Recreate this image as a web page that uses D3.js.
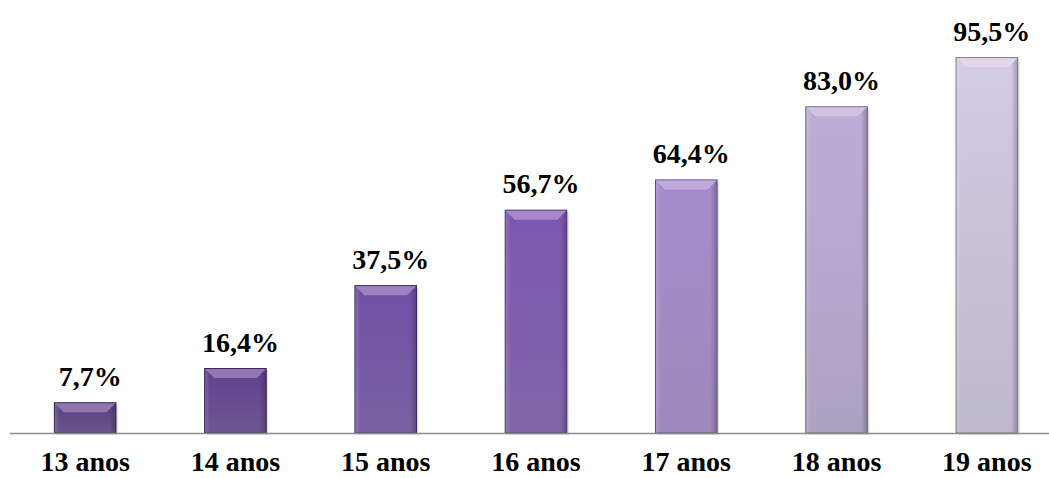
<!DOCTYPE html>
<html lang="pt">
<head>
<meta charset="UTF-8">
<script src="https://d3js.org/d3.v7.min.js"></script>
<style>
  body { margin: 0; background: #fff; }
</style>
</head>
<body>
<div id="chart"></div>
<script>
var categories = ["13 anos", "14 anos", "15 anos", "16 anos", "17 anos", "18 anos", "19 anos"];
var values = [7.7, 16.4, 37.5, 56.7, 64.4, 83.0, 95.5];
var colors = ["#5a3f86", "#60418f", "#7050a6", "#7d57b2", "#a58bcc", "#bcadd6", "#d4cbe4"];

var width = 1049, height = 478;
var fontFam = "'Liberation Serif', 'Times New Roman', serif";

var svg = d3.select("#chart").append("svg")
    .attr("width", width)
    .attr("height", height);

var x = d3.scaleBand()
    .domain(categories)
    .range([10, 1062])
    .paddingInner(0.59)
    .paddingOuter(0.295);

var y = d3.scaleLinear()
    .domain([0, 100])
    .range([433, 40]);

var defs = svg.append("defs");

// vertical gradient per bar, a bit greyer toward the base
colors.forEach(function(c, i) {
  var g = defs.append("linearGradient")
      .attr("id", "grad" + i)
      .attr("x1", 0).attr("y1", 0).attr("x2", 0).attr("y2", 1);
  g.append("stop").attr("offset", "0%").attr("stop-color", c);
  g.append("stop").attr("offset", "100%").attr("stop-color", d3.interpolateRgb(c, "#8e8898")(0.3));
});

var hg = defs.append("linearGradient")
    .attr("id", "side").attr("x1", 0).attr("y1", 0).attr("x2", 1).attr("y2", 0);
hg.append("stop").attr("offset", "0%").attr("stop-color", "#fff").attr("stop-opacity", 0.15);
hg.append("stop").attr("offset", "8%").attr("stop-color", "#fff").attr("stop-opacity", 0.0);
hg.append("stop").attr("offset", "90%").attr("stop-color", "#000").attr("stop-opacity", 0.0);
hg.append("stop").attr("offset", "100%").attr("stop-color", "#000").attr("stop-opacity", 0.22);

var data = categories.map(function(c, i) { return { cat: c, v: values[i], i: i }; });

var bars = svg.selectAll("g.bar").data(data).enter().append("g").attr("class", "bar");

// shadow
bars.append("rect")
    .attr("x", function(d) { return x(d.cat) + 2; })
    .attr("y", function(d) { return y(d.v) + 2; })
    .attr("width", x.bandwidth())
    .attr("height", function(d) { return y(0) - y(d.v); })
    .attr("fill", "#000").attr("opacity", 0.12);

bars.append("rect")
    .attr("x", function(d) { return x(d.cat); })
    .attr("y", function(d) { return y(d.v); })
    .attr("width", x.bandwidth())
    .attr("height", function(d) { return y(0) - y(d.v); })
    .attr("fill", function(d) { return "url(#grad" + d.i + ")"; })
    .attr("stroke", function(d) { return d3.color(colors[d.i]).darker(1.6); })
    .attr("stroke-width", 1);

bars.append("rect")
    .attr("x", function(d) { return x(d.cat) + 0.5; })
    .attr("y", function(d) { return y(d.v) + 0.5; })
    .attr("width", x.bandwidth() - 1)
    .attr("height", function(d) { return y(0) - y(d.v) - 1; })
    .attr("fill", "url(#side)");

// top bevel
var b = 9;
bars.append("path")
    .attr("d", function(d) {
      var x0 = x(d.cat) + 0.5, x1 = x(d.cat) + x.bandwidth() - 0.5, t = y(d.v) + 0.5;
      return "M" + x0 + "," + t + "L" + x1 + "," + t + "L" + (x1 - b) + "," + (t + b) + "L" + (x0 + b) + "," + (t + b) + "Z";
    })
    .attr("fill", function(d) { return d3.interpolateRgb(colors[d.i], "#fff0ff")(0.35); })
    .attr("opacity", 0.9);

// axis line
svg.append("line")
    .attr("x1", 10).attr("x2", width)
    .attr("y1", y(0) + 0.5).attr("y2", y(0) + 0.5)
    .attr("stroke", "#8c8c8c").attr("stroke-width", 1.5);

// value labels
bars.append("text")
    .attr("x", function(d) { return x(d.cat) + x.bandwidth() / 2 + 5; })
    .attr("y", function(d) { return y(d.v) - 17; })
    .attr("text-anchor", "middle")
    .attr("font-family", fontFam)
    .attr("font-weight", "bold")
    .attr("font-size", 28)
    .attr("fill", "#000")
    .text(function(d) { return d3.format(".1f")(d.v).replace(".", ",") + "%"; });

// category labels
svg.selectAll("text.cat").data(categories).enter().append("text")
    .attr("class", "cat")
    .attr("x", function(d) { return x(d) + x.bandwidth() / 2; })
    .attr("y", 471)
    .attr("text-anchor", "middle")
    .attr("font-family", fontFam)
    .attr("font-weight", "bold")
    .attr("font-size", 28)
    .attr("fill", "#000")
    .text(function(d) { return d; });
</script>
</body>
</html>
